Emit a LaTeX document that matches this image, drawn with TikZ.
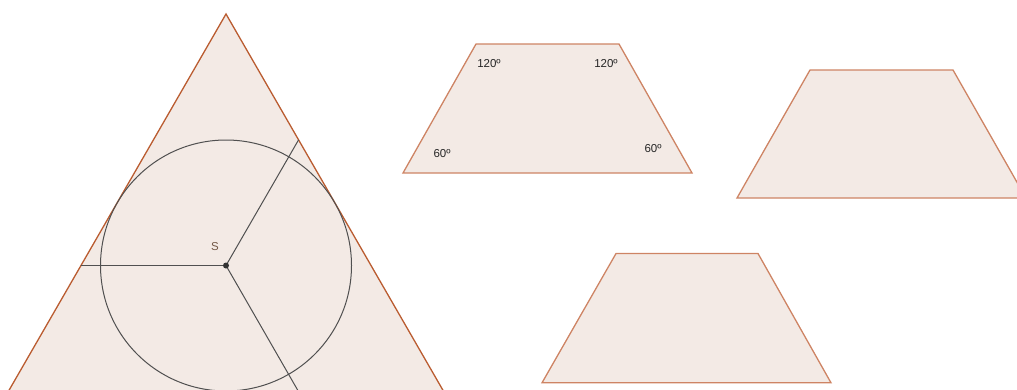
\documentclass[tikz,border=0pt]{standalone}
\usepackage{fontspec}
\setmainfont{Liberation Sans}
\usepackage{tikz}
\usetikzlibrary{calc}
\definecolor{polyEdge}{RGB}{186,92,48}
\definecolor{trapEdge}{RGB}{206,132,100}
\definecolor{polyFill}{RGB}{243,234,229}
\definecolor{lineGray}{RGB}{80,80,80}
\definecolor{labelBrown}{RGB}{115,88,70}

\begin{document}
\begin{tikzpicture}[
                x=1pt, y=-1pt,
                tri/.style={draw=polyEdge, fill=polyFill, line width=1.3pt},
                trap/.style={draw=trapEdge, fill=polyFill, line width=1.3pt},
                seg/.style={draw=lineGray, line width=1pt},
                anglabel/.style={font=\fontsize{11.5}{13}\selectfont, text=black!85, inner sep=0pt}
            ]
                \useasboundingbox (0,0) rectangle (1017,389);
                \clip (0,0) rectangle (1017,389);

                % Points
                \coordinate (A) at (226,14);
                \coordinate (B) at (8.6,391);
                \coordinate (C) at (443.4,391);
                \coordinate (S) at (226,265.5);
                \coordinate (pl) at (80.8,265.5);
                \coordinate (pu) at (298.6,139.8);
                \coordinate (pd) at (298.2,391);

                % Triangle with circle
                \draw[tri] (A) -- (B) -- (C) -- cycle;
                \draw[seg] (S) circle (125.5);
                \draw[seg] (S) -- (pl);
                \draw[seg] (S) -- (pu);
                \draw[seg] (S) -- (pd);
                \fill[black!80] (S) circle (3);
                \node[font=\fontsize{11.5}{13}\selectfont, text=labelBrown] (Slabel) at (215,247) {S};

                % Trapezoids
                \draw[trap] (476,44) -- (619,44) -- (692,173) -- (403,173) -- cycle;
                \draw[trap] (810,70) -- (953,70) -- (1026,198) -- (737,198) -- cycle;
                \draw[trap] (616,253.5) -- (758,253.5) -- (831,382.8) -- (542,382.8) -- cycle;

                % Angles
                \node[anglabel] (a1) at (489,64) {120º};
                \node[anglabel] (a2) at (606,64) {120º};
                \node[anglabel] (a3) at (442,154) {60º};
                \node[anglabel] (a4) at (653,149) {60º};
            \end{tikzpicture}
\end{document}
